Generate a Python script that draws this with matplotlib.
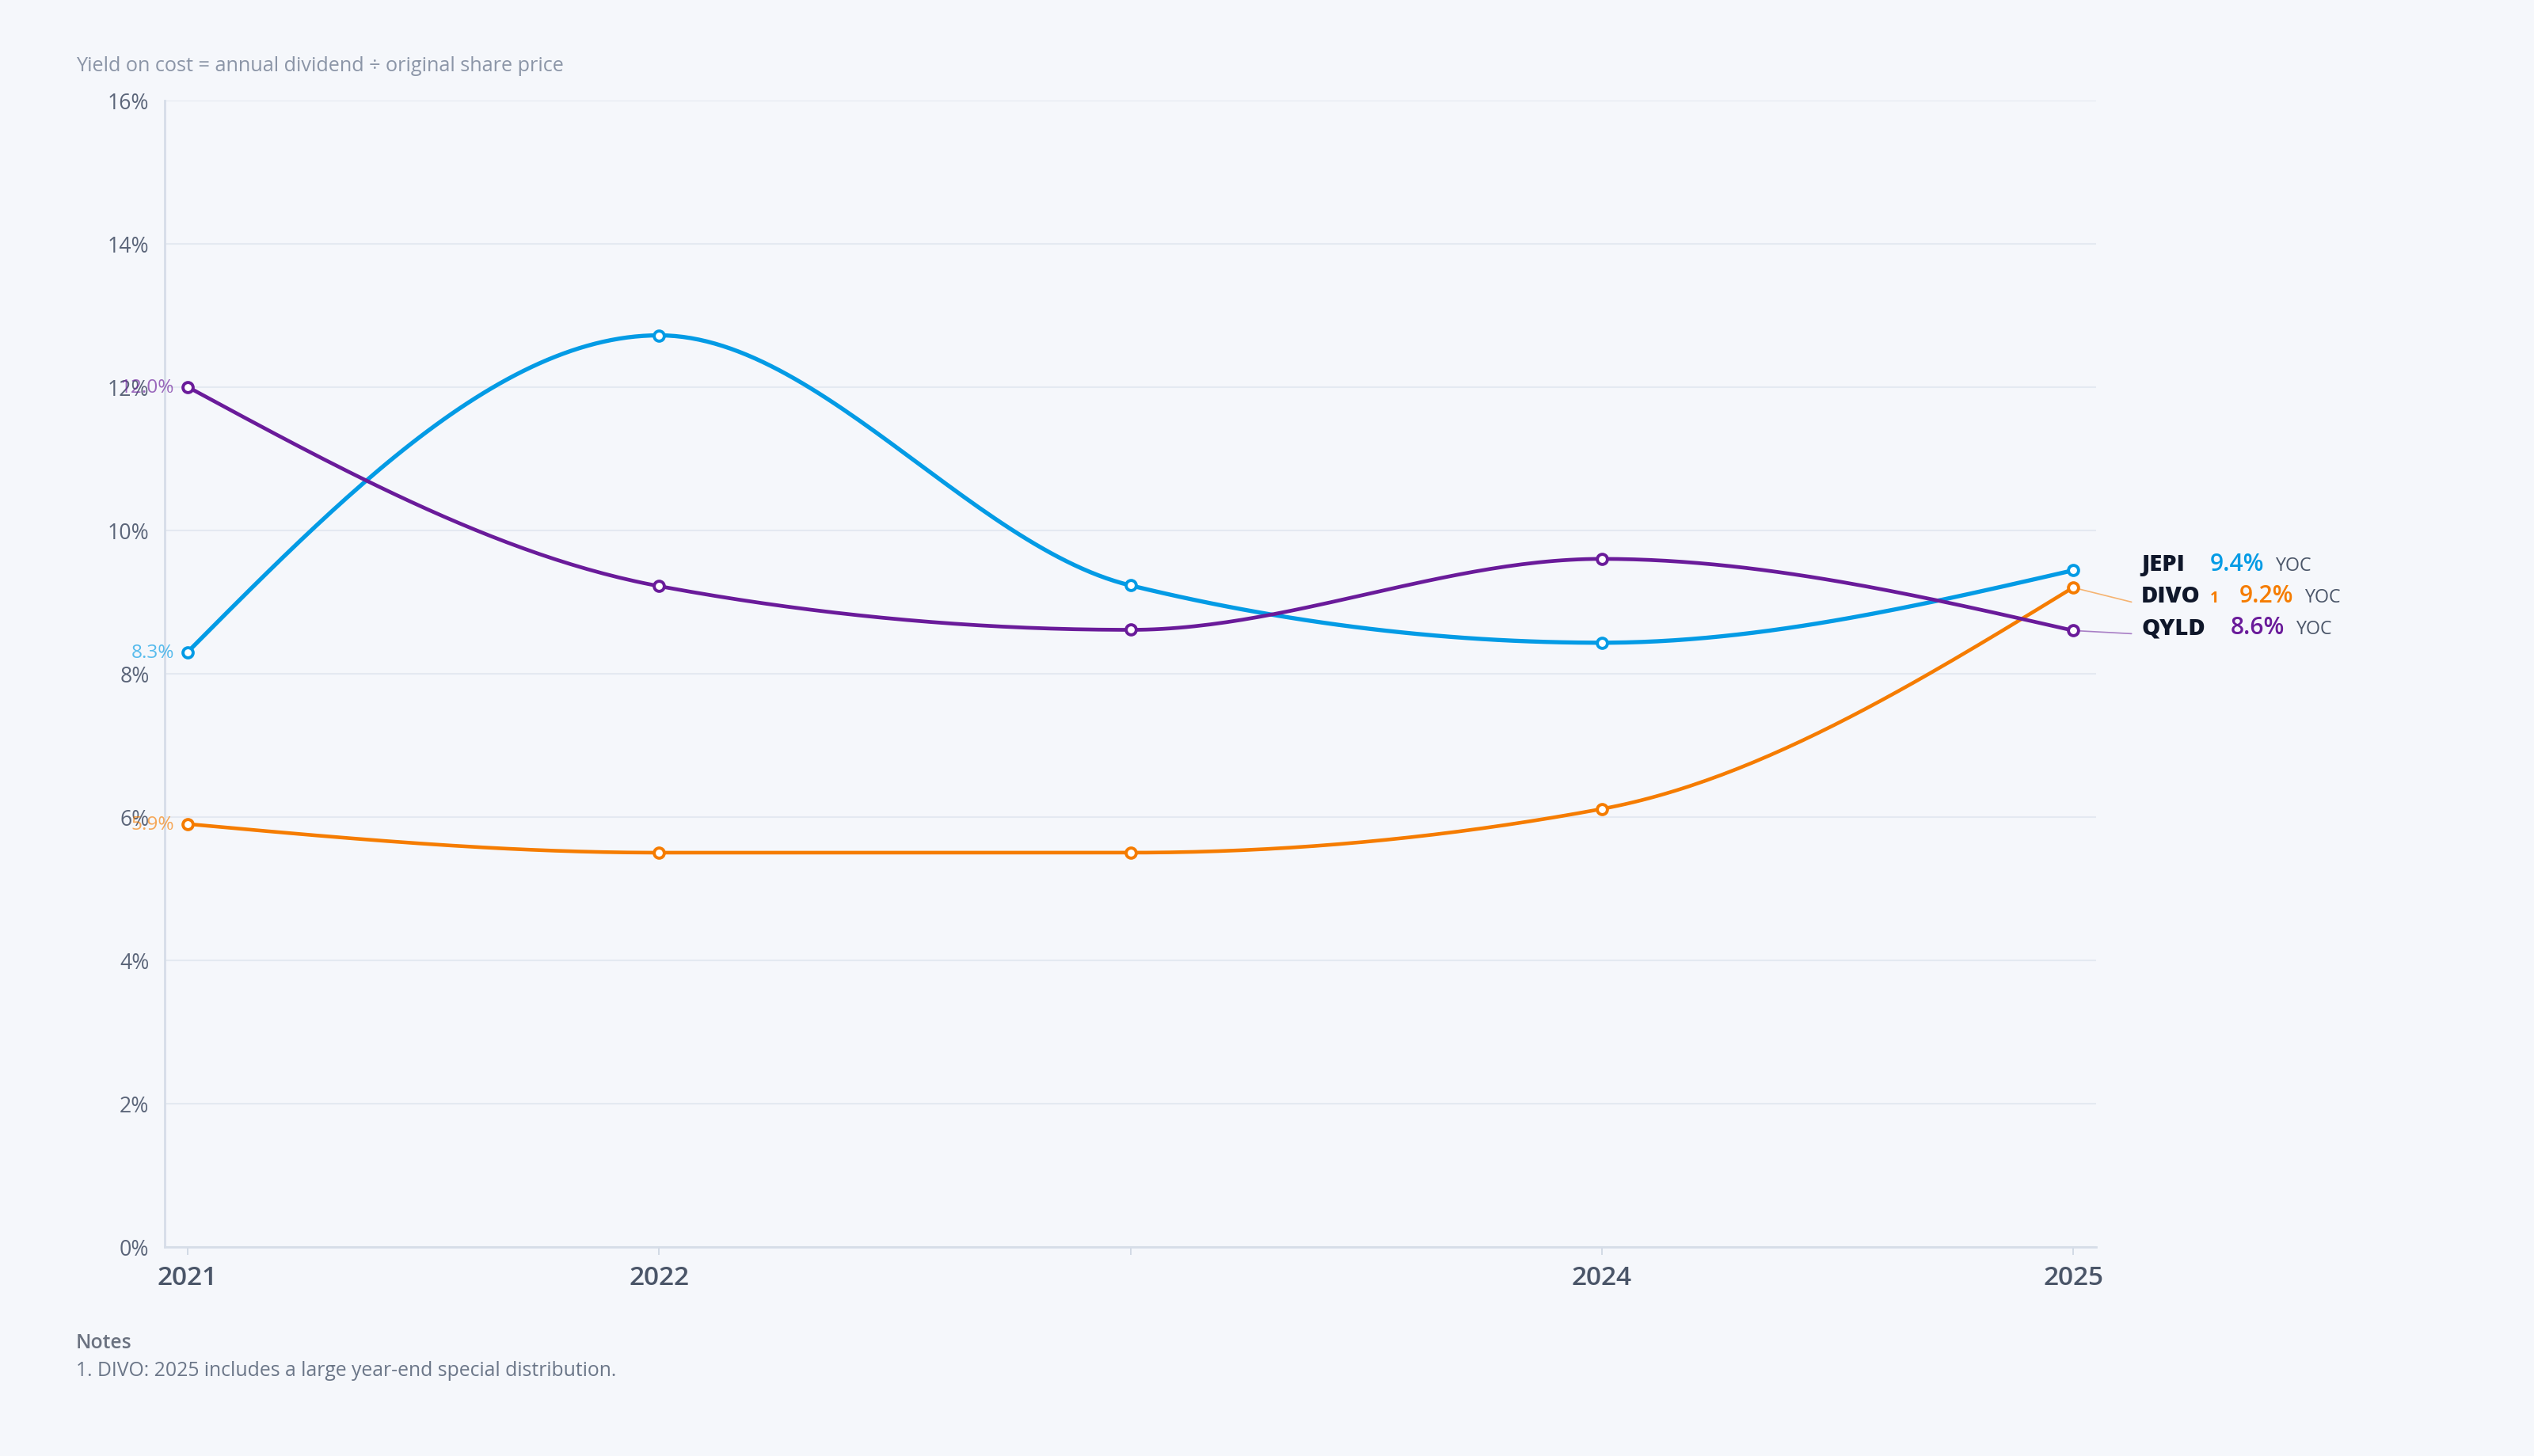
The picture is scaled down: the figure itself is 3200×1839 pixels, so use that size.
import numpy as np
import matplotlib
matplotlib.use("Agg")
import matplotlib.pyplot as plt
from matplotlib.ticker import FuncFormatter

plt.rcParams['font.family'] = ['Open Sans', 'DejaVu Sans']

# ---------------- data ----------------
years = [2021, 2022, 2023, 2024, 2025]
year_labels = ["2021", "2022", "", "2024", "2025"]
series_names = ["JEPI", "DIVO", "QYLD"]
jepi = [8.3, 12.72, 9.23, 8.43, 9.44]
divo = [5.9, 5.5, 5.5, 6.11, 9.2]
qyld = [12.0, 9.22, 8.61, 9.60, 8.6]
series_values = [jepi, divo, qyld]
series_colors = ["#039BE5", "#F57C00", "#6A1B9A"]
series_lw = [1.9, 1.65, 1.7]
footnotes = {"DIVO": "1"}
y_ticks = [0, 2, 4, 6, 8, 10, 12, 14, 16]
subtitle = "Yield on cost = annual dividend \u00f7 original share price"
notes_title = "Notes"
notes_lines = ["1. DIVO: 2025 includes a large year-end special distribution."]

BG = "#F5F7FB"


def monotone_x(xs, ys, n=60):
    """d3.curveMonotoneX equivalent (cubic Hermite with monotone slopes)."""
    xs = np.asarray(xs, float)
    ys = np.asarray(ys, float)
    h = np.diff(xs)
    s = np.diff(ys) / h
    m = len(xs)
    t = np.zeros(m)
    sg = lambda v: -1.0 if v < 0 else 1.0
    for i in range(1, m - 1):
        p = (s[i - 1] * h[i] + s[i] * h[i - 1]) / (h[i - 1] + h[i])
        t[i] = (sg(s[i - 1]) + sg(s[i])) * min(abs(s[i - 1]), abs(s[i]), 0.5 * abs(p))
    t[0] = (3 * s[0] - t[1]) / 2
    t[-1] = (3 * s[-1] - t[-2]) / 2
    X, Y = [], []
    for i in range(m - 1):
        u = np.linspace(0, 1, n)
        h00 = 2 * u**3 - 3 * u**2 + 1
        h10 = u**3 - 2 * u**2 + u
        h01 = -2 * u**3 + 3 * u**2
        h11 = u**3 - u**2
        X.append(xs[i] + u * h[i])
        Y.append(h00 * ys[i] + h10 * h[i] * t[i] + h01 * ys[i + 1] + h11 * h[i] * t[i + 1])
    return np.concatenate(X), np.concatenate(Y)


W, H, DPI = 3200, 1840, 200
fig = plt.figure(figsize=(W / DPI, H / DPI), dpi=DPI, facecolor=BG)
ax = fig.add_axes([208 / W, 1 - 1575.7 / H, (2647 - 208) / W, (1575.7 - 127.7) / H])
ax.set_facecolor(BG)

pad = 29 / 595.25
ax.set_xlim(years[0] - pad, years[-1] + pad)
ax.set_ylim(y_ticks[0], y_ticks[-1])

ax.set_yticks(y_ticks)
ax.yaxis.set_major_formatter(FuncFormatter(lambda v, p: f"{v:.0f}%"))
ax.set_xticks(years)
ax.set_xticklabels(year_labels)

ax.grid(axis='y', color="#E4E9F1", linewidth=0.75, zorder=0)
ax.grid(axis='x', visible=False)
for sp in ["top", "right"]:
    ax.spines[sp].set_visible(False)
for sp in ["left", "bottom"]:
    ax.spines[sp].set_color("#D6DDE8")
    ax.spines[sp].set_linewidth(1.0)

ax.tick_params(axis='y', length=0, pad=7, labelsize=9.6, labelcolor="#5B6579")
ax.tick_params(axis='x', length=3.6, width=0.6, color="#CBD5E1", pad=4.5,
               labelsize=12, labelcolor="#4A5568")
for lab in ax.get_xticklabels():
    lab.set_fontweight('semibold')

for name, vals, col, lw in zip(series_names, series_values, series_colors, series_lw):
    cx, cy = monotone_x(years, vals)
    ax.plot(cx, cy, color=col, lw=lw, solid_capstyle='round', zorder=3, clip_on=False)
    ax.plot(years, vals, linestyle='none', marker='o', ms=4.6, mew=1.4,
            mfc='white', mec=col, zorder=4, clip_on=False)
    ax.annotate(f"{vals[0]:.1f}%", xy=(years[0], vals[0]), xytext=(-17, 0),
                textcoords='offset pixels', ha='right', va='center',
                fontsize=8.8, color=col, alpha=0.65, zorder=5)

# ---- end labels with collision avoidance ----
px_per_unit = (1575.7 - 127.7) / (y_ticks[-1] - y_ticks[0])
min_gap = 40 / px_per_unit
order = sorted(range(len(series_names)), key=lambda i: -series_values[i][-1])
anchors = {}
prev = None
for i in order:
    v = series_values[i][-1]
    a = v if prev is None else min(v, prev - min_gap)
    anchors[i] = a
    prev = a

fig.canvas.draw()
renderer = fig.canvas.get_renderer()

for i in order:
    name = series_names[i]
    col = series_colors[i]
    v = series_values[i][-1]
    a = anchors[i]
    if abs(a - v) > 1e-6:
        ax.annotate("", xy=(years[-1], v), xytext=(73.7, (a - v) * px_per_unit),
                    textcoords='offset pixels',
                    arrowprops=dict(arrowstyle='-', color=col, alpha=0.55, lw=0.6,
                                    shrinkA=0, shrinkB=0),
                    annotation_clip=False, zorder=2)
    xoff = 86
    yoff = (a - v) * px_per_unit
    t = ax.annotate(name, xy=(years[-1], v), xytext=(xoff, yoff), textcoords='offset pixels',
                    ha='left', va='baseline', fontsize=10.5, fontweight='heavy',
                    color="#0F172A", annotation_clip=False)
    xoff += t.get_window_extent(renderer).width
    if name in footnotes:
        xoff += 12.5
        t = ax.annotate(footnotes[name], xy=(years[-1], v), xytext=(xoff, yoff),
                        textcoords='offset pixels', ha='left', va='baseline',
                        fontsize=7, fontweight='bold', color=col, annotation_clip=False)
        xoff += t.get_window_extent(renderer).width + 25
    else:
        xoff += 31.5
    t = ax.annotate(f"{v:.1f}%", xy=(years[-1], v), xytext=(xoff, yoff),
                    textcoords='offset pixels', ha='left', va='baseline',
                    fontsize=10.8, fontweight='semibold', color=col, annotation_clip=False)
    xoff += t.get_window_extent(renderer).width + 14
    ax.annotate("YOC", xy=(years[-1], v), xytext=(xoff, yoff),
                textcoords='offset pixels', ha='left', va='baseline',
                fontsize=8.4, color="#4A5568", annotation_clip=False)

fig.text(96 / W, 1 - 83 / H, subtitle, ha='left', va='center', fontsize=9.1, color="#8B95A7")
fig.text(96 / W, 1 - 1697 / H, notes_title, ha='left', va='center', fontsize=8.9,
         fontweight='semibold', color="#6B7280")
for k, line in enumerate(notes_lines):
    fig.text(96 / W, 1 - (1732 + 36 * k) / H, line, ha='left', va='center', fontsize=8.9,
             color="#6B7688")

fig.savefig("out.png", dpi=DPI, facecolor=BG)
